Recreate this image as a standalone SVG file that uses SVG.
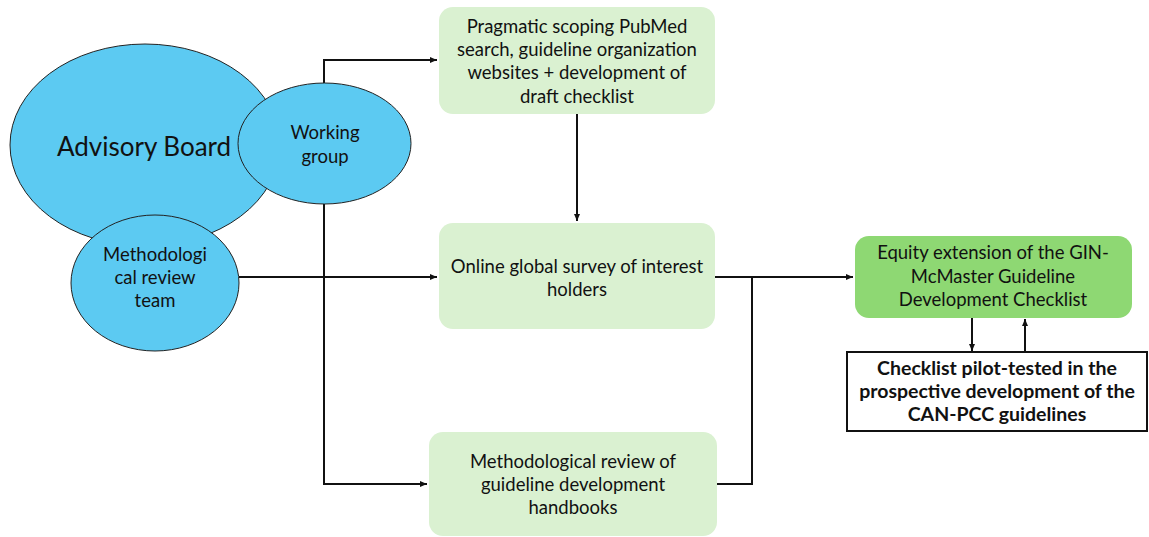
<svg xmlns="http://www.w3.org/2000/svg" width="1149" height="537" viewBox="0 0 1149 537">
<style>
.t{font-family:"Lato","Liberation Sans",sans-serif;font-size:18.5px;fill:#111;text-anchor:middle}
.b{font-weight:bold;font-size:19.5px}
.ell{fill:#5ccaf2;stroke:#222;stroke-width:1}
.lg{fill:#daf1d1}
.dg{fill:#8ed873}
.c{fill:none;stroke:#111;stroke-width:2}
</style>
<defs>
<marker id="ah" markerWidth="8" markerHeight="8" refX="7" refY="4" orient="auto" markerUnits="userSpaceOnUse">
<path d="M0,1 L7,4 L0,7 z" fill="#111"/>
</marker>
</defs>
<g id="connectors">
<path class="c" d="M324,84 V60 H437" marker-end="url(#ah)"/>
<path class="c" d="M324,204 V484 H427" marker-end="url(#ah)"/>
<path class="c" d="M239,277 H437" marker-end="url(#ah)"/>
<path class="c" d="M577,114 V221" marker-end="url(#ah)"/>
<path class="c" d="M715,277 H853" marker-end="url(#ah)"/>
<path class="c" d="M717,484 H752 V277"/>
<path class="c" d="M972,318 V351" marker-end="url(#ah)"/>
<path class="c" d="M1025,352 V319" marker-end="url(#ah)"/>
</g>
<g id="advisory-board">
<ellipse class="ell" cx="145" cy="145" rx="135" ry="101"/>
<text class="t" x="144" y="156" style="font-size:26px">Advisory Board</text>
</g>
<g id="working-group">
<ellipse class="ell" cx="324.5" cy="143.5" rx="86.5" ry="60.5"/>
<text class="t" x="325" y="139">Working</text>
<text class="t" x="325" y="163">group</text>
</g>
<g id="methodological-team">
<ellipse class="ell" cx="155" cy="283" rx="84" ry="68"/>
<text class="t" x="155" y="261">Methodologi</text>
<text class="t" x="155" y="284">cal review</text>
<text class="t" x="155" y="307">team</text>
</g>
<g id="pragmatic-scoping">
<rect class="lg" x="439" y="7" width="276" height="107" rx="14"/>
<text class="t" x="577" y="33">Pragmatic scoping PubMed</text>
<text class="t" x="577" y="56">search, guideline organization</text>
<text class="t" x="577" y="79">websites + development of</text>
<text class="t" x="577" y="103">draft checklist</text>
</g>
<g id="online-survey">
<rect class="lg" x="439" y="223" width="276" height="106" rx="14"/>
<text class="t" x="577" y="273">Online global survey of interest</text>
<text class="t" x="577" y="296">holders</text>
</g>
<g id="methodological-review">
<rect class="lg" x="429" y="432" width="288" height="104" rx="14"/>
<text class="t" x="573" y="468">Methodological review of</text>
<text class="t" x="573" y="491">guideline development</text>
<text class="t" x="573" y="514">handbooks</text>
</g>
<g id="equity-extension">
<rect class="dg" x="855" y="236" width="277" height="82" rx="14"/>
<text class="t" x="993" y="259">Equity extension of the GIN-</text>
<text class="t" x="993" y="283">McMaster Guideline</text>
<text class="t" x="993" y="306">Development Checklist</text>
</g>
<g id="pilot-tested">
<rect x="847" y="352" width="300" height="79" fill="#fff" stroke="#111" stroke-width="2"/>
<text class="t b" x="997" y="375">Checklist pilot-tested in the</text>
<text class="t b" x="997" y="398">prospective development of the</text>
<text class="t b" x="997" y="421">CAN-PCC guidelines</text>
</g>
</svg>
